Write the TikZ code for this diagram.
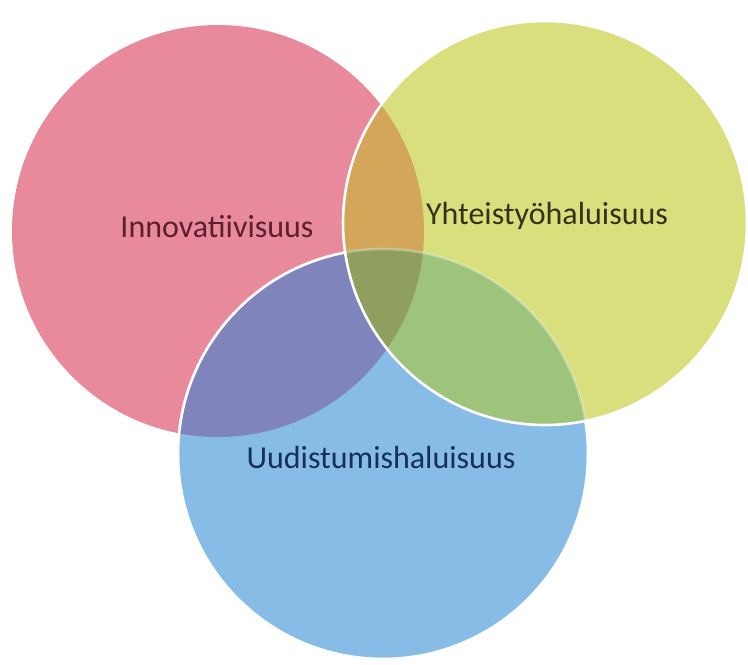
\documentclass[tikz,border=0pt]{standalone}
\usepackage{fontspec}
\setmainfont{Carlito}
\usepackage{tikz}

\definecolor{innored}{HTML}{E8899C}
\definecolor{yhtyellow}{HTML}{D9DF7C}
\definecolor{uudblue}{HTML}{87BCE6}
\definecolor{ryorange}{HTML}{D3A65A}
\definecolor{rbpurple}{HTML}{7F84BC}
\definecolor{ybgreen}{HTML}{9EC37A}
\definecolor{allolive}{HTML}{8FA05E}
\definecolor{innotext}{HTML}{5B1F2E}
\definecolor{yhttext}{HTML}{333319}
\definecolor{uudtext}{HTML}{14305A}

\begin{document}
\begin{tikzpicture}[
        x=0.5pt,y=-0.5pt,
        setlabel/.style={inner sep=0pt,font=\fontsize{16}{19}\selectfont},
        rim/.style={draw=white,line width=1.3pt}
    ]
    \useasboundingbox (0,0) rectangle (748,664);

    \coordinate (inno) at (218,231);
    \coordinate (yht)  at (545,223);
    \coordinate (uud)  at (383,454);

    % the three sets
    \fill[innored]   (inno) circle (206);
    \fill[yhtyellow] (yht)  circle (202);
    \fill[uudblue]   (uud)  circle (205);

    % pairwise overlaps
    \begin{scope}
        \clip (inno) circle (206);
        \fill[ryorange] (yht) circle (202);
    \end{scope}
    \begin{scope}
        \clip (inno) circle (206);
        \fill[rbpurple] (uud) circle (205);
    \end{scope}
    \begin{scope}
        \clip (yht) circle (202);
        \fill[ybgreen] (uud) circle (205);
    \end{scope}
    \begin{scope}
        \clip (inno) circle (206);
        \clip (yht) circle (202);
        \fill[allolive] (uud) circle (205);
    \end{scope}

    % white rims
    \path[rim,draw opacity=0.3] (uud) circle (205);
    \begin{scope}[even odd rule]
        \clip (0,0) rectangle (748,664) (yht) circle (202);
        \path[rim] (uud) circle (205);
    \end{scope}
    \path[rim] (yht) circle (202);

    \node[setlabel,text=innotext] (innolabel) at (217,227) {Innovatiivisuus};
    \node[setlabel,text=yhttext]  (yhtlabel)  at (547,216) {Yhteistyöhaluisuus};
    \node[setlabel,text=uudtext]  (uudlabel)  at (381,457) {Uudistumishaluisuus};
\end{tikzpicture}
\end{document}
